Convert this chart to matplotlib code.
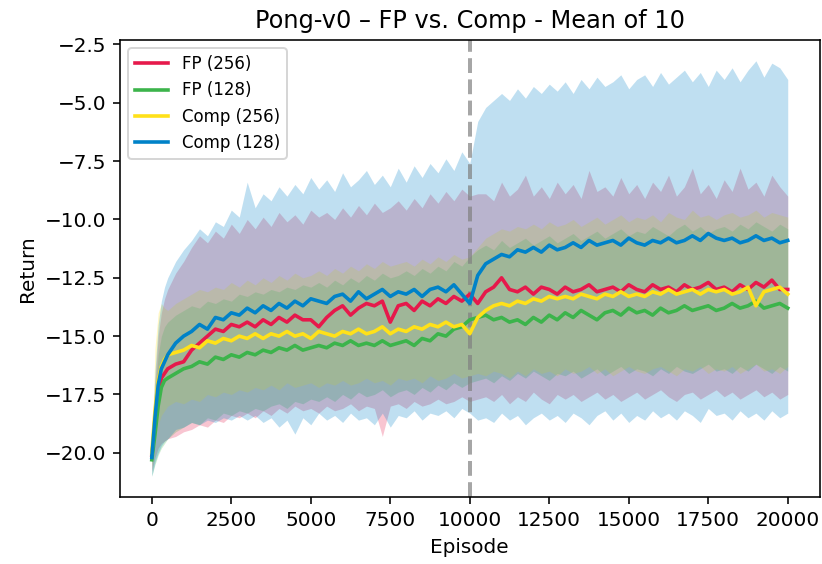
import numpy as np
import matplotlib
matplotlib.use("Agg")
import matplotlib.pyplot as plt

# x grid the curves were read at
episodes = np.concatenate([[0, 100, 200, 300, 400], np.arange(500, 20001, 250)])

labels = ['FP (256)', 'FP (128)', 'Comp (256)', 'Comp (128)']
colours = ['#e6194b', '#3cb44b', '#ffe119', '#0082c8']

# mean returns
fp256_mean = [
    -20.1, -18.9, -17.6, -16.8, -16.6,
    -16.4, -16.2, -16.1, -15.6, -15.3, -15.0, -14.7, -14.8, -14.5, -14.6,
    -14.4, -14.6, -14.3, -14.5, -14.2, -14.4, -14.1, -14.3, -14.3, -14.6,
    -14.2, -13.9, -13.7, -14.1, -13.8, -13.6, -13.7, -13.5, -14.4, -13.7,
    -13.6, -13.9, -13.5, -13.7, -13.4, -13.6, -13.3, -13.5, -13.2, -13.6,
    -13.1, -12.9, -12.5, -13.0, -13.1, -12.9, -13.2, -12.9, -13.0, -13.2,
    -12.9, -13.1, -13.0, -12.8, -13.1, -13.0, -12.9, -13.1, -12.8, -13.0,
    -13.1, -12.8, -13.0, -12.9, -13.1, -12.8, -13.0, -12.9, -12.7, -13.0,
    -12.9, -13.1, -12.8, -13.0, -12.7, -12.9, -12.6, -13.0, -13.0]
fp128_mean = [
    -20.3, -19.2, -18.0, -17.2, -16.9,
    -16.8, -16.6, -16.4, -16.3, -16.1, -16.2, -15.9, -16.0, -15.8, -15.9,
    -15.7, -15.8, -15.6, -15.7, -15.5, -15.6, -15.4, -15.6, -15.5, -15.4,
    -15.5, -15.3, -15.4, -15.2, -15.4, -15.3, -15.4, -15.2, -15.4, -15.3,
    -15.2, -15.4, -15.1, -15.2, -14.9, -15.0, -14.7, -14.6, -14.3, -14.2,
    -14.1, -14.3, -14.2, -14.4, -14.3, -14.5, -14.2, -14.4, -14.1, -14.3,
    -14.0, -14.2, -13.9, -14.1, -14.3, -14.0, -13.9, -14.1, -13.8, -14.0,
    -13.9, -14.1, -13.8, -14.0, -13.9, -13.7, -13.9, -13.8, -13.7, -13.9,
    -13.8, -13.6, -13.8, -13.7, -13.5, -13.8, -13.7, -13.6, -13.8]
comp256_mean = [
    -20.0, -18.2, -16.9, -16.3, -16.0,
    -15.8, -15.7, -15.6, -15.4, -15.5, -15.2, -15.3, -15.1, -15.2, -15.0,
    -15.1, -14.9, -15.1, -14.9, -15.0, -14.8, -15.0, -14.9, -15.1, -14.8,
    -14.9, -15.0, -14.8, -14.9, -14.7, -14.9, -14.8, -14.6, -14.9, -14.7,
    -14.8, -14.6, -14.7, -14.5, -14.6, -14.4, -14.6, -14.5, -14.9, -14.2,
    -13.9, -13.7, -13.6, -13.7, -13.5, -13.6, -13.4, -13.5, -13.3, -13.4,
    -13.3, -13.4, -13.2, -13.3, -13.4, -13.2, -13.3, -13.1, -13.3, -13.2,
    -13.3, -13.1, -13.2, -13.0, -13.2, -13.1, -13.0, -13.2, -13.0, -13.1,
    -13.0, -13.2, -13.1, -12.9, -13.7, -13.1, -13.0, -12.9, -13.2]
comp128_mean = [
    -20.2, -18.5, -17.1, -16.4, -16.1,
    -15.8, -15.3, -15.0, -14.8, -14.5, -14.7, -14.2, -14.3, -14.0, -14.1,
    -13.8, -14.0, -13.7, -13.9, -13.6, -13.8, -13.5, -13.7, -13.4, -13.5,
    -13.6, -13.3, -13.2, -13.5, -13.1, -13.4, -13.2, -13.0, -13.3, -13.1,
    -13.2, -13.0, -13.3, -13.0, -12.9, -13.1, -12.8, -13.2, -13.6, -12.4,
    -11.9, -11.7, -11.5, -11.6, -11.3, -11.4, -11.2, -11.4, -11.1, -11.3,
    -11.2, -11.0, -11.2, -10.9, -11.1, -11.0, -10.9, -11.1, -10.8, -11.0,
    -11.1, -10.9, -11.0, -10.8, -11.0, -10.9, -10.7, -10.9, -10.6, -10.8,
    -10.9, -10.8, -11.0, -10.9, -10.7, -10.9, -10.8, -11.0, -10.9]

# upper edge of shaded band
fp256_upper = [
    -19.7, -17.0, -15.0, -14.0, -13.4,
    -13.0, -12.3, -11.8, -11.2, -10.7, -11.0, -10.5, -10.8, -10.2, -10.6,
    -10.0, -10.4, -9.9, -10.3, -9.7, -10.1, -9.8, -10.2, -9.6, -9.9,
    -9.7, -10.0, -9.5, -9.9, -9.4, -9.8, -9.3, -9.7, -9.5, -9.2,
    -9.6, -9.1, -9.5, -8.9, -9.3, -8.8, -9.2, -8.7, -9.0, -8.9,
    -8.9, -9.2, -8.4, -9.0, -8.7, -8.1, -9.0, -8.6, -9.1, -8.4,
    -8.9, -8.5, -9.1, -7.9, -8.8, -8.6, -9.0, -8.2, -8.9, -8.5,
    -9.1, -8.4, -8.8, -8.1, -9.0, -8.6, -7.8, -8.9, -8.5, -9.1,
    -8.3, -8.8, -7.8, -8.7, -8.4, -9.0, -8.1, -8.6, -9.0]
fp128_upper = [
    -19.9, -17.5, -15.8, -15.0, -14.6,
    -14.4, -14.1, -13.9, -13.7, -13.8, -13.5, -13.6, -13.4, -13.5, -13.2,
    -13.3, -13.1, -13.2, -13.0, -13.1, -12.9, -13.0, -12.8, -12.9, -12.7,
    -12.9, -12.6, -12.8, -12.5, -12.7, -12.4, -12.6, -12.3, -12.5, -12.4,
    -12.2, -12.4, -12.1, -12.3, -12.0, -12.2, -11.8, -12.0, -11.6, -11.3,
    -11.1, -11.3, -10.9, -11.2, -11.0, -10.8, -11.1, -10.9, -10.7, -11.0,
    -10.8, -10.6, -10.9, -10.7, -10.5, -10.8, -10.6, -10.4, -10.7, -10.5,
    -10.6, -10.3, -10.5, -10.7, -10.4, -10.2, -10.5, -10.3, -10.6, -10.4,
    -10.3, -10.5, -10.2, -10.4, -10.1, -10.3, -10.5, -10.2, -10.4]
comp256_upper = [
    -19.8, -15.5, -14.0, -13.6, -13.8,
    -13.9, -13.6, -13.4, -13.2, -13.0, -13.1, -12.9, -13.0, -12.7, -12.9,
    -12.6, -12.8, -12.5, -12.7, -12.4, -12.6, -12.3, -12.5, -12.4, -12.2,
    -12.4, -12.1, -12.3, -12.0, -12.2, -11.9, -12.1, -11.8, -12.0, -11.9,
    -11.8, -12.0, -11.7, -11.9, -11.6, -11.8, -11.5, -11.7, -11.6, -11.2,
    -10.8, -10.6, -10.4, -10.5, -10.3, -10.4, -10.2, -10.4, -10.1, -10.3,
    -10.2, -10.0, -10.3, -10.1, -9.9, -10.2, -10.0, -9.8, -10.1, -9.9,
    -10.0, -9.8, -10.1, -9.7, -9.9, -10.0, -9.6, -9.9, -9.8, -10.0,
    -9.8, -9.7, -9.9, -9.8, -9.6, -9.9, -9.7, -9.8, -9.9]
comp128_upper = [
    -19.6, -16.5, -14.5, -13.5, -12.9,
    -12.5, -11.8, -11.3, -10.9, -10.4, -10.7, -10.1, -10.3, -9.6, -9.9,
    -8.4, -9.5, -8.9, -9.2, -8.6, -9.0, -8.5, -8.9, -8.2, -8.7,
    -8.3, -8.8, -8.0, -8.6, -8.3, -7.9, -8.5, -8.1, -8.6, -7.8,
    -8.4, -7.7, -8.2, -7.6, -8.0, -7.4, -7.9, -7.1, -7.6, -5.8,
    -5.2, -4.9, -4.6, -4.9, -4.4, -4.8, -4.3, -4.6, -4.2, -4.5,
    -4.1, -4.6, -4.0, -4.4, -3.9, -4.3, -4.1, -3.8, -4.4, -4.0,
    -3.8, -4.3, -3.7, -4.2, -3.9, -3.6, -4.1, -3.7, -4.3, -3.6,
    -4.0, -3.5, -4.1, -3.6, -3.2, -3.9, -3.3, -3.5, -4.0]

# lower edge of shaded band
fp256_lower = [
    -20.8, -20.2, -19.8, -19.6, -19.5,
    -19.4, -19.3, -19.1, -19.0, -18.8, -18.9, -18.6, -18.7, -18.4, -18.5,
    -18.3, -18.5, -18.2, -18.4, -18.1, -18.3, -18.0, -18.2, -18.1, -18.3,
    -18.0, -18.2, -18.1, -17.9, -18.2, -18.0, -18.1, -19.3, -18.0, -17.9,
    -18.1, -17.8, -18.0, -17.9, -17.7, -17.9, -17.8, -17.6, -17.8, -17.7,
    -17.6, -17.8, -17.5, -17.9, -17.6, -17.8, -17.4, -17.7, -17.9, -17.5,
    -17.7, -17.5, -17.8, -17.6, -17.4, -17.7, -17.5, -17.8, -17.6, -17.4,
    -17.7, -17.5, -17.3, -17.6, -17.8, -17.5, -17.4, -17.7, -17.5, -17.3,
    -17.6, -17.4, -17.7, -17.5, -17.3, -17.6, -17.4, -17.7, -17.5]
fp128_lower = [
    -21.0, -20.5, -20.1, -19.8, -19.6,
    -19.4, -19.1, -18.9, -18.7, -18.8, -18.5, -18.6, -18.3, -18.4, -18.2,
    -18.3, -18.1, -18.2, -18.0, -17.9, -18.1, -17.8, -17.9, -17.7, -17.8,
    -17.6, -17.8, -17.5, -17.7, -17.4, -17.6, -17.5, -17.3, -17.6, -17.4,
    -17.3, -17.5, -17.2, -17.4, -17.1, -17.3, -17.0, -17.2, -17.0, -16.9,
    -16.8, -17.0, -16.7, -16.9, -16.6, -16.8, -16.5, -16.7, -16.9, -16.6,
    -16.7, -16.5, -16.8, -16.6, -16.4, -16.7, -16.5, -16.3, -16.6, -16.4,
    -16.5, -16.7, -16.4, -16.6, -16.3, -16.5, -16.6, -16.4, -16.2, -16.5,
    -16.4, -16.6, -16.3, -16.5, -16.2, -16.4, -16.6, -16.3, -16.5]
comp256_lower = [
    -20.6, -19.6, -18.8, -18.4, -18.2,
    -18.0, -17.8, -17.9, -17.7, -17.8, -17.5, -17.6, -17.4, -17.5, -17.3,
    -17.4, -17.2, -17.3, -17.1, -17.3, -17.0, -17.2, -17.1, -17.0, -17.2,
    -17.0, -17.1, -16.9, -17.1, -17.0, -16.8, -17.0, -16.9, -17.1, -16.8,
    -16.9, -16.8, -17.0, -16.7, -16.9, -16.8, -16.6, -16.8, -16.7, -16.6,
    -16.7, -16.5, -16.6, -16.8, -16.5, -16.7, -16.4, -16.6, -16.5, -16.7,
    -16.4, -16.6, -16.5, -16.3, -16.6, -16.4, -16.7, -16.5, -16.3, -16.5,
    -16.6, -16.4, -16.3, -16.5, -16.7, -16.4, -16.5, -16.3, -16.6, -16.4,
    -16.5, -16.3, -16.6, -16.4, -16.2, -16.5, -16.4, -16.6, -16.3]
comp128_lower = [
    -21.0, -20.4, -20.0, -19.7, -19.5,
    -19.4, -19.0, -18.9, -18.7, -18.8, -18.6, -18.7, -18.5, -18.6, -18.4,
    -18.6, -18.4, -18.7, -18.5, -18.9, -18.6, -19.2, -18.5, -18.8, -18.3,
    -18.6, -18.4, -18.7, -18.3, -18.6, -18.5, -18.8, -18.3, -18.9, -18.4,
    -18.5, -18.2, -18.6, -18.3, -18.4, -18.2, -18.5, -18.1, -18.3, -18.6,
    -18.5, -18.7, -18.3, -18.6, -18.4, -18.8, -18.5, -18.3, -18.6, -18.4,
    -18.7, -18.3, -18.5, -18.8, -18.4, -18.2, -18.6, -18.3, -18.7, -18.4,
    -18.6, -18.2, -18.5, -18.3, -18.6, -18.2, -18.4, -18.7, -18.1, -18.4,
    -18.3, -18.6, -18.2, -18.5, -18.3, -18.6, -18.2, -18.5, -18.3]

means = [fp256_mean, fp128_mean, comp256_mean, comp128_mean]
uppers = [fp256_upper, fp128_upper, comp256_upper, comp128_upper]
lowers = [fp256_lower, fp128_lower, comp256_lower, comp128_lower]

fig = plt.figure(figsize=(822 / 144, 564 / 144), dpi=144)
ax = fig.add_axes([0.146, 0.119, 0.851, 0.81])

for lo, up, c in zip(lowers, uppers, colours):
    ax.fill_between(episodes, lo, up, color=c, alpha=0.25, linewidth=0)

ax.axvline(10000, color='grey', linestyle='--', linewidth=2, alpha=0.7)

for m, c, lab in zip(means, colours, labels):
    ax.plot(episodes, m, color=c, linewidth=1.8, label=lab)

ax.set_title("Pong-v0 \u2013 FP vs. Comp - Mean of 10")
ax.set_xlabel("Episode")
ax.set_ylabel("Return")
ax.legend(loc='upper left', fontsize='small')

fig.savefig("out.png", dpi=144)
